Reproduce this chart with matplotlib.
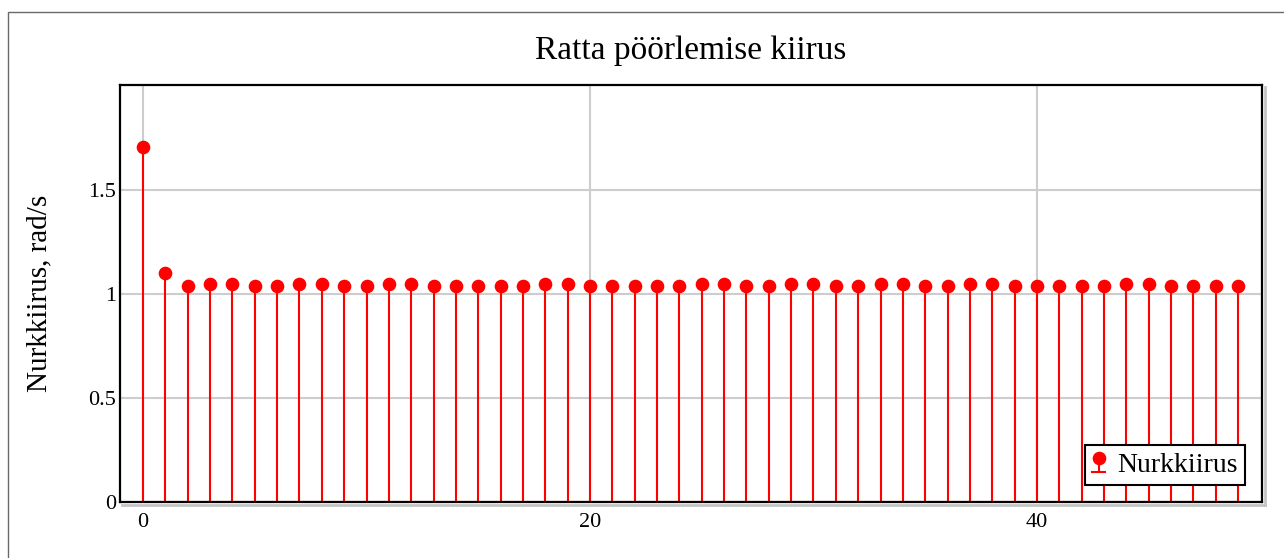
import numpy as np
import matplotlib
matplotlib.use("Agg")
import matplotlib.pyplot as plt
from matplotlib.patches import Rectangle
from matplotlib.lines import Line2D

# Nurkkiirus igal sammul (rad/s)
samm = list(range(50))
nurkkiirus = [
    1.708, 1.102,
    1.040, 1.048, 1.048, 1.040, 1.040, 1.048, 1.048, 1.040,
    1.040, 1.048, 1.048, 1.040, 1.040, 1.040, 1.040, 1.040,
    1.048, 1.048, 1.040, 1.040, 1.040, 1.040, 1.040, 1.048,
    1.048, 1.040, 1.040, 1.048, 1.048, 1.040, 1.040, 1.048,
    1.048, 1.040, 1.040, 1.048, 1.048, 1.040, 1.040, 1.040,
    1.040, 1.040, 1.048, 1.048, 1.040, 1.040, 1.040, 1.040,
]
x_ticks = [0, 20, 40]
y_ticks = [0, 0.5, 1, 1.5]
y_tick_labels = ["0", "0.5", "1", "1.5"]

plt.rcParams['font.family'] = ['Liberation Serif', 'DejaVu Serif']

W, H = 1284, 558
fig = plt.figure(figsize=(W / 100, H / 100), dpi=100)

# piksliväärtused -> joonise murdosad
ax_l, ax_r, ax_t, ax_b = 120, 1262, 85, 502
ax = fig.add_axes([ax_l / W, 1 - ax_b / H, (ax_r - ax_l) / W, (ax_b - ax_t) / H])

# välimine raam
fig.patches.append(Rectangle((8 / W, -0.05), 1.1, 1 - 12 / H + 0.05,
                             transform=fig.transFigure, fill=False,
                             edgecolor='#6a6a6a', lw=1.0, zorder=0))

# hall vari telgede all ja paremal
sh = 2.5
fig.lines.append(Line2D([(ax_l + 2) / W, (ax_r + sh) / W],
                        [1 - (ax_b + sh) / H, 1 - (ax_b + sh) / H],
                        transform=fig.transFigure, color='#c4c4c4', lw=2))
fig.lines.append(Line2D([(ax_r + sh) / W, (ax_r + sh) / W],
                        [1 - (ax_t + 2) / H, 1 - (ax_b + sh) / H],
                        transform=fig.transFigure, color='#c4c4c4', lw=2))

markerline, stemlines, baseline = ax.stem(samm, nurkkiirus, linefmt='-',
                                          markerfmt='o', basefmt='-',
                                          label='Nurkkiirus')
markerline.set_color('#ff0000')
markerline.set_markersize(8.8)
stemlines.set_color('#ff0000')
stemlines.set_linewidth(1.5)
baseline.set_color('#ff0000')
baseline.set_linewidth(1.5)

ax.set_xlim(-1.03, 50.07)
ax.set_ylim(0, 2.005)
ax.set_xticks(x_ticks)
ax.set_yticks(y_ticks)
ax.set_yticklabels(y_tick_labels)
ax.tick_params(axis='both', length=0, labelsize=16)
ax.tick_params(axis='x', pad=8)
ax.tick_params(axis='y', pad=3)
ax.grid(True, color='#cdcdcd', lw=1.5)
ax.set_axisbelow(True)
for s in ax.spines.values():
    s.set_linewidth(1.6)
    s.set_color('black')

ax.set_title('Ratta pöörlemise kiirus', fontsize=24, pad=19)
ax.set_ylabel('Nurkkiirus, rad/s', fontsize=21)
ax.yaxis.set_label_coords((52 - ax_l) / (ax_r - ax_l), 0.5)

leg = ax.legend(loc='lower right', fontsize=20, numpoints=1, handlelength=0.45,
                handletextpad=0.45, borderpad=0.25, borderaxespad=0.62,
                fancybox=False, framealpha=1, edgecolor='black')
leg.get_frame().set_linewidth(1.5)

fig.savefig('out.png', dpi=100)
